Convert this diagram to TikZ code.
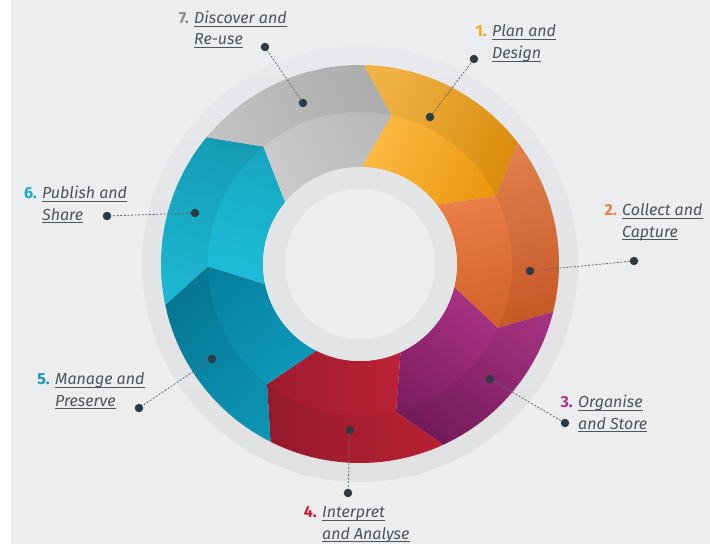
\documentclass[tikz,border=0pt]{standalone}
\usepackage{fontspec}
\setmainfont{Fira Sans}
\definecolor{bgc}{HTML}{ECEDEF}
\definecolor{ringtop}{HTML}{E6E8EB}
\definecolor{ringbot}{HTML}{E1E1E2}
\definecolor{innerring}{HTML}{E3E4E6}
\definecolor{dotc}{HTML}{2F3A45}
\definecolor{leadc}{HTML}{62676D}
\definecolor{txtc}{HTML}{4F545A}
\definecolor{s1l}{HTML}{FFBE4A}\definecolor{s1d}{HTML}{E8950C}
\definecolor{s2l}{HTML}{F08852}\definecolor{s2d}{HTML}{D3602A}
\definecolor{s3l}{HTML}{B0368A}\definecolor{s3d}{HTML}{7D1D60}
\definecolor{s4l}{HTML}{C52439}\definecolor{s4d}{HTML}{9E1B2F}
\definecolor{s5l}{HTML}{0FA0C2}\definecolor{s5d}{HTML}{067F9E}
\definecolor{s6l}{HTML}{1EC2DE}\definecolor{s6d}{HTML}{17A6C0}
\definecolor{s7l}{HTML}{D0D0D0}\definecolor{s7d}{HTML}{B8B8B8}
\definecolor{c1}{HTML}{F5A81C}
\definecolor{c2}{HTML}{EE7D48}
\definecolor{c3}{HTML}{A83282}
\definecolor{c4}{HTML}{C41E3A}
\definecolor{c5}{HTML}{1496BC}
\definecolor{c6}{HTML}{1AABCB}
\definecolor{c7}{HTML}{8C8C8C}
\begin{document}
\begin{tikzpicture}[x=1pt,y=1pt,
  dot/.style={circle,fill=dotc,inner sep=0pt,minimum size=8.5pt},
  leader/.style={draw=leadc,line width=0.8pt,dash pattern=on 2pt off 1.6pt},
  lbl/.style={anchor=base west,inner sep=0pt,font=\fontsize{16}{19}\selectfont\itshape,text=txtc},
  num/.style={anchor=base east,inner sep=0pt,font=\fontsize{16}{19}\selectfont\bfseries},
  ul/.style={draw=txtc,line width=0.8pt}]
\useasboundingbox (-360,-280) rectangle (350,264);
\fill[white] (-360,-280) rectangle (-349,264);
\fill[bgc] (-349,-280) rectangle (350,264);
% outer pale ring
\shade[top color=ringtop,bottom color=ringbot] (0,0) circle[radius=218pt];
% coloured segments
\foreach \k/\lc/\dc in {0/s1l/s1d,1/s2l/s2d,2/s3l/s3d,3/s4l/s4d,4/s5l/s5d,5/s6l/s6d,6/s7l/s7d}{
  \pgfmathsetmacro\s{89-\k*360/7}
  \pgfmathsetmacro\e{\s-360/7}
  \pgfmathsetmacro\sa{(\s+\e)/2-180}
  \pgfmathsetmacro\em{\e-11}
  \pgfmathsetmacro\sm{\s-11}
  \shade[bottom color=\lc,top color=\dc,shading angle=\sa]
    (\s:199pt) arc[start angle=\s,end angle=\e,radius=199pt]
    -- (\em:152pt) -- (\e:97pt)
    arc[start angle=\e,end angle=\s,radius=97pt]
    -- (\sm:152pt) -- cycle;
}
% darker outer band
\fill[black,opacity=0.06,even odd rule] (0,0) circle[radius=199pt] (0,0) circle[radius=152pt];
% inner hub
\fill[innerring] (0,0) circle[radius=97pt];
\fill[bgc] (0,0) circle[radius=75pt];
% dots and leaders
\foreach \i/\ax/\ay/\bx/\by in {1/70/147/114/205,2/170/-7/274/3,3/130/-115/205/-159,4/-10/-166/-12/-229,5/-148/-95/-221/-144,6/-165/51/-253/48,7/-57/161/-95/217}{
  \node[dot] (r\i) at (\ax,\ay) {};
  \node[dot] (o\i) at (\bx,\by) {};
  \draw[leader] (r\i) -- (o\i);
}
% labels
\foreach \i/\tx/\ty/\ta/\tb in {1/132/227/Plan and/Design,2/262/48.5/Collect and/Capture,3/218/-143.5/Organise/and Store,4/-38/-253.5/Interpret/and Analyse,5/-305/-120.5/Manage and/Preserve,6/-318/65.5/Publish and/Share,7/-166/240.5/Discover and/Re-use}{
  \node[num,text=c\i] (n\i) at (\tx-5,\ty) {\i.};
  \node[lbl] (t\i a) at (\tx,\ty) {\ta};
  \node[lbl] (t\i b) at (\tx,\ty-21.5) {\tb};
  \draw[ul] ([yshift=-2.5pt]t\i a.base west) -- ([yshift=-2.5pt]t\i a.base east);
  \draw[ul] ([yshift=-2.5pt]t\i b.base west) -- ([yshift=-2.5pt]t\i b.base east);
}
\end{tikzpicture}
\end{document}
